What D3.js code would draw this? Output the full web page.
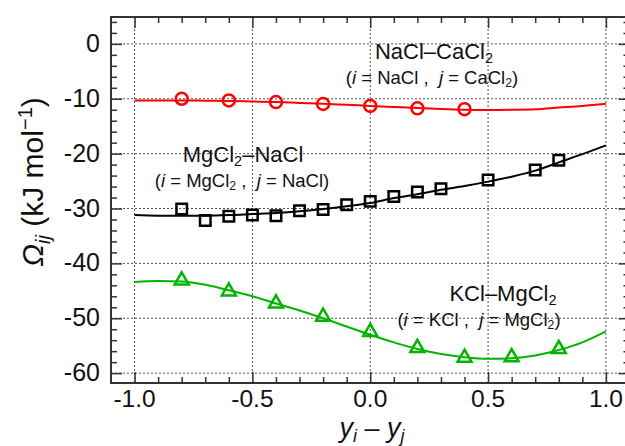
<!DOCTYPE html>
<html>
<head>
<meta charset="utf-8">
<script src="https://cdnjs.cloudflare.com/ajax/libs/d3/7.8.5/d3.min.js"></script>
<style>
  body { margin: 0; background: #fff; }
  svg { display: block; font-family: "Liberation Sans", Arial, sans-serif; }
  text { white-space: pre; }
</style>
</head>
<body>
<svg width="625" height="446"></svg>
<script>
// Omega_ij vs y_i - y_j for three binary systems

// fitted curves, read every 0.1 along x
const curveX = [-1.0, -0.9, -0.8, -0.7, -0.6, -0.5, -0.4, -0.3, -0.2, -0.1, 0.0,
                0.1, 0.2, 0.3, 0.4, 0.5, 0.6, 0.7, 0.8, 0.9, 1.0];
const naclCacl2Curve = [-10.3, -10.3, -10.3, -10.35, -10.4, -10.5, -10.6, -10.75, -10.9, -11.1, -11.3,
                        -11.5, -11.7, -11.85, -12.0, -12.05, -12.0, -11.9, -11.6, -11.3, -10.9];
const mgcl2NaclCurve = [-31.2, -31.3, -31.3, -31.3, -31.2, -31.0, -30.8, -30.5, -30.1, -29.6, -29.0,
                        -28.1, -27.4, -26.6, -25.9, -25.1, -24.2, -23.1, -21.6, -20.1, -18.5];
const kclMgcl2Curve = [-43.4, -43.2, -43.3, -43.9, -44.9, -46.0, -47.3, -48.6, -50.0, -51.5, -53.0,
                       -54.4, -55.6, -56.5, -57.1, -57.4, -57.3, -56.8, -55.8, -54.4, -52.4];

// measured points
const naclX = [-0.8, -0.6, -0.4, -0.2, 0.0, 0.2, 0.4];
const naclY = [-10.0, -10.3, -10.6, -10.95, -11.3, -11.75, -11.9];
const mgclX = [-0.8, -0.7, -0.6, -0.5, -0.4, -0.3, -0.2, -0.1, 0.0, 0.1, 0.2, 0.3, 0.5, 0.7, 0.8];
const mgclY = [-30.1, -32.2, -31.4, -31.2, -31.3, -30.4, -30.2, -29.3, -28.7, -27.8, -27.0, -26.4, -24.8, -23.0, -21.2];
const kclX = [-0.8, -0.6, -0.4, -0.2, 0.0, 0.2, 0.4, 0.6, 0.8];
const kclY = [-43.1, -45.1, -47.3, -49.7, -52.5, -55.4, -57.2, -57.1, -55.6];

// ticks
const xMajor = [-1.0, -0.5, 0.0, 0.5, 1.0];
const xMinor = [-0.9, -0.8, -0.7, -0.6, -0.4, -0.3, -0.2, -0.1, 0.1, 0.2, 0.3, 0.4, 0.6, 0.7, 0.8, 0.9];
const yMajor = [0, -10, -20, -30, -40, -50, -60];
const yMinor = [4, 2, -2, -4, -6, -8, -12, -14, -16, -18, -22, -24, -26, -28, -32, -34, -36, -38,
                -42, -44, -46, -48, -52, -54, -56, -58];

const svg = d3.select('svg');
const plot = { left: 111, top: 17, right: 629.5, bottom: 383 };

const xScale = d3.scaleLinear().domain([-1.1, 1.1]).range([plot.left, plot.right]);
const yScale = d3.scaleLinear().domain([-61.8, 4.9]).range([plot.bottom, plot.top]);

const red = '#ff0000';
const green = '#00b400';
const frameColor = '#333';

// grid
const grid = svg.append('g').attr('stroke', '#555').attr('stroke-width', 1)
  .attr('stroke-dasharray', '2,2');
grid.selectAll('.gx').data(xMajor).join('line')
  .attr('x1', d => xScale(d)).attr('x2', d => xScale(d))
  .attr('y1', plot.top).attr('y2', plot.bottom);
grid.selectAll('.gy').data(yMajor).join('line')
  .attr('y1', d => yScale(d)).attr('y2', d => yScale(d))
  .attr('x1', plot.left).attr('x2', plot.right);

// axes: ticks point inward, on all four sides
const majorLen = 11, minorLen = 6;
const fmtX = d => d3.format('.1f')(d).replace('−', '-');
const fmtY = d => d3.format('d')(d).replace('−', '-');

function styleAxis(g) {
  g.select('.domain').remove();
  g.selectAll('.tick line').attr('stroke', frameColor).attr('stroke-width', 1.5);
}

svg.append('g').attr('transform', `translate(0,${plot.bottom})`)
  .call(d3.axisTop(xScale).tickValues(xMajor).tickSize(majorLen).tickFormat(''))
  .call(styleAxis);
svg.append('g').attr('transform', `translate(0,${plot.bottom})`)
  .call(d3.axisTop(xScale).tickValues(xMinor).tickSize(minorLen).tickFormat(''))
  .call(styleAxis);
svg.append('g').attr('transform', `translate(0,${plot.top})`)
  .call(d3.axisBottom(xScale).tickValues(xMajor).tickSize(majorLen).tickFormat(''))
  .call(styleAxis);
svg.append('g').attr('transform', `translate(0,${plot.top})`)
  .call(d3.axisBottom(xScale).tickValues(xMinor).tickSize(minorLen).tickFormat(''))
  .call(styleAxis);
svg.append('g').attr('transform', `translate(${plot.left},0)`)
  .call(d3.axisRight(yScale).tickValues(yMajor).tickSize(majorLen).tickFormat(''))
  .call(styleAxis);
svg.append('g').attr('transform', `translate(${plot.left},0)`)
  .call(d3.axisRight(yScale).tickValues(yMinor).tickSize(minorLen).tickFormat(''))
  .call(styleAxis);
svg.append('g').attr('transform', `translate(${plot.right},0)`)
  .call(d3.axisLeft(yScale).tickValues(yMajor).tickSize(majorLen).tickFormat(''))
  .call(styleAxis);
svg.append('g').attr('transform', `translate(${plot.right},0)`)
  .call(d3.axisLeft(yScale).tickValues(yMinor).tickSize(minorLen).tickFormat(''))
  .call(styleAxis);

// tick labels
svg.append('g').selectAll('text').data(xMajor).join('text')
  .attr('x', d => xScale(d)).attr('y', 407)
  .attr('text-anchor', 'middle').attr('font-size', 24.5).attr('fill', '#111')
  .text(fmtX);
svg.append('g').selectAll('text').data(yMajor).join('text')
  .attr('x', 100).attr('y', d => yScale(d) + 8)
  .attr('text-anchor', 'end').attr('font-size', 25).attr('fill', '#111')
  .text(fmtY);

// frame
svg.append('rect')
  .attr('x', plot.left).attr('y', plot.top)
  .attr('width', plot.right - plot.left).attr('height', plot.bottom - plot.top)
  .attr('fill', 'none').attr('stroke', frameColor).attr('stroke-width', 2);

// curves
const line = d3.line()
  .x((d, i) => xScale(curveX[i]))
  .y(d => yScale(d))
  .curve(d3.curveMonotoneX);

const curves = [
  { values: naclCacl2Curve, color: red },
  { values: mgcl2NaclCurve, color: '#000' },
  { values: kclMgcl2Curve, color: green }
];
svg.append('g').selectAll('path').data(curves).join('path')
  .attr('d', d => line(d.values))
  .attr('fill', 'none').attr('stroke', d => d.color).attr('stroke-width', 2);

// markers
svg.append('g').selectAll('circle').data(naclX).join('circle')
  .attr('cx', d => xScale(d)).attr('cy', (d, i) => yScale(naclY[i]))
  .attr('r', 6).attr('fill', 'none').attr('stroke', red).attr('stroke-width', 2.5);

const square = d3.symbol().type(d3.symbolSquare).size(110);
svg.append('g').selectAll('path').data(mgclX).join('path')
  .attr('transform', (d, i) => `translate(${xScale(d)},${yScale(mgclY[i])})`)
  .attr('d', square).attr('fill', 'none').attr('stroke', '#000').attr('stroke-width', 2.5);

const triangle = d3.symbol().type(d3.symbolTriangle).size(85);
svg.append('g').selectAll('path').data(kclX).join('path')
  .attr('transform', (d, i) => `translate(${xScale(d)},${yScale(kclY[i])})`)
  .attr('d', triangle).attr('fill', 'none').attr('stroke', green).attr('stroke-width', 2.5);

// annotations
function compound(g, x, y, size, parts) {
  const t = g.append('text').attr('x', x).attr('y', y).attr('text-anchor', 'middle')
    .attr('font-size', size).attr('fill', '#111');
  parts.forEach(p => {
    const ts = t.append('tspan').text(p.t);
    if (p.it) ts.attr('font-style', 'italic');
    if (p.sub) ts.attr('font-size', size * 0.66).attr('dy', size * 0.17);
    if (p.back) ts.attr('dy', -size * 0.17);
  });
  return t;
}

const ann = svg.append('g');
compound(ann, 434, 59, 22, [{ t: 'NaCl–CaCl' }, { t: '2', sub: true }]);
compound(ann, 432, 84, 18.5, [{ t: '(' }, { t: 'i', it: true }, { t: ' = NaCl ,  ' }, { t: 'j', it: true },
  { t: ' = CaCl' }, { t: '2', sub: true }, { t: ')', back: true }]);
compound(ann, 243, 162, 22, [{ t: 'MgCl' }, { t: '2', sub: true }, { t: '–NaCl', back: true }]);
compound(ann, 242, 187, 18.5, [{ t: '(' }, { t: 'i', it: true }, { t: ' = MgCl' }, { t: '2', sub: true },
  { t: ' ,  ', back: true }, { t: 'j', it: true }, { t: ' = NaCl)' }]);
compound(ann, 503, 301, 22, [{ t: 'KCl–MgCl' }, { t: '2', sub: true }]);
compound(ann, 479, 326, 18.5, [{ t: '(' }, { t: 'i', it: true }, { t: ' = KCl ,  ' }, { t: 'j', it: true },
  { t: ' = MgCl' }, { t: '2', sub: true }, { t: ')', back: true }]);

// axis titles
compound(svg, 372, 437, 27, [{ t: 'y', it: true }, { t: 'i', it: true, sub: true },
  { t: ' – ', back: true }, { t: 'y', it: true }, { t: 'j', it: true, sub: true }]);

const yTitle = svg.append('text')
  .attr('transform', 'translate(43,182) rotate(-90)')
  .attr('text-anchor', 'middle').attr('font-size', 30).attr('fill', '#111');
yTitle.append('tspan').attr('font-style', 'italic').text('Ω');
yTitle.append('tspan').attr('font-style', 'italic').attr('font-size', 20).attr('dy', 7).text('ij');
yTitle.append('tspan').attr('dy', -7).text(' (kJ mol');
yTitle.append('tspan').attr('font-size', 20).attr('dy', -11).text('−1');
yTitle.append('tspan').attr('dy', 11).text(')');
</script>
</body>
</html>
